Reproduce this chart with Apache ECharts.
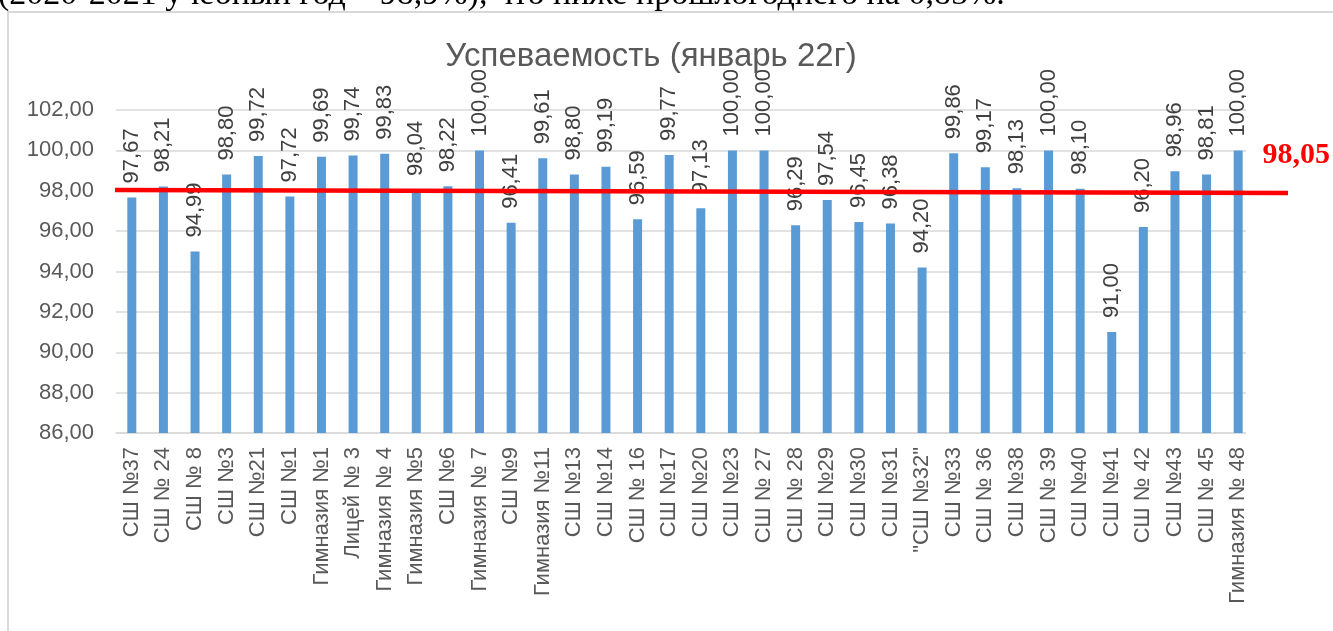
<!DOCTYPE html>
<html>
<head>
<meta charset="utf-8">
<script src="https://cdn.jsdelivr.net/npm/echarts@6/dist/echarts.min.js"></script>
<style>
  html, body { margin: 0; padding: 0; background: #fff; }
  #chart { width: 1333px; height: 631px; }
</style>
</head>
<body>
<div id="chart"></div>
<script>
const schools = [
  'СШ №37', 'СШ № 24', 'СШ № 8', 'СШ №3', 'СШ №21', 'СШ №1',
  'Гимназия №1', 'Лицей № 3', 'Гимназия № 4', 'Гимназия №5', 'СШ №6', 'Гимназия № 7',
  'СШ №9', 'Гимназия №11', 'СШ №13', 'СШ №14', 'СШ № 16', 'СШ №17',
  'СШ №20', 'СШ №23', 'СШ № 27', 'СШ № 28', 'СШ №29', 'СШ №30',
  'СШ №31', '"СШ №32"', 'СШ №33', 'СШ № 36', 'СШ №38', 'СШ № 39',
  'СШ №40', 'СШ №41', 'СШ № 42', 'СШ №43', 'СШ № 45', 'Гимназия № 48'
]
const progress = [
  97.67, 98.21, 94.99, 98.80, 99.72, 97.72,
  99.69, 99.74, 99.83, 98.04, 98.22, 100.00,
  96.41, 99.61, 98.80, 99.19, 96.59, 99.77,
  97.13, 100.00, 100.00, 96.29, 97.54, 96.45,
  96.38, 94.20, 99.86, 99.17, 98.13, 100.00,
  98.10, 91.00, 96.20, 98.96, 98.81, 100.00
]
// hand drawn red line: value at its left and right end
const avgLine = [98.04, 97.89]
const avgValue = 98.05
const yTicks = { min: 86, max: 102, step: 2 }

const fmt = v => v.toFixed(2).replace('.', ',')

const chart = echarts.init(document.getElementById('chart'))

chart.setOption({
  animation: false,
  title: {
    text: 'Успеваемость (январь 22г)',
    left: 646,
    top: 35,
    textAlign: 'center',
    textStyle: { fontFamily: 'Liberation Sans', fontSize: 33, fontWeight: 'normal', color: '#595959' }
  },
  grid: [
    { left: 116, right: 79, top: 110, bottom: 198 },
    { left: 115, right: 45, top: 110, bottom: 198 }
  ],
  xAxis: [
    {
      type: 'category',
      data: schools,
      axisLine: { lineStyle: { color: '#d9d9d9', width: 1.5 } },
      axisTick: { show: false },
      axisLabel: {
        rotate: 90,
        interval: 0,
        margin: 14,
        fontFamily: 'Liberation Sans',
        fontSize: 22,
        color: '#595959'
      }
    },
    { gridIndex: 1, type: 'value', min: 0, max: 1, show: false }
  ],
  yAxis: [
    {
      type: 'value',
      min: yTicks.min,
      max: yTicks.max,
      interval: yTicks.step,
      axisLine: { show: false },
      axisTick: { show: false },
      splitLine: { lineStyle: { color: '#d9d9d9', width: 1.5 } },
      axisLabel: {
        formatter: v => fmt(v),
        margin: 22,
        fontFamily: 'Liberation Sans',
        fontSize: 22,
        color: '#595959'
      }
    },
    { gridIndex: 1, type: 'value', min: yTicks.min, max: yTicks.max, show: false }
  ],
  series: [
    {
      type: 'bar',
      data: progress,
      barWidth: 9,
      itemStyle: { color: '#5b9bd5' },
      label: {
        show: true,
        position: 'top',
        rotate: 90,
        align: 'left',
        verticalAlign: 'middle',
        distance: 14,
        formatter: p => fmt(p.value),
        fontFamily: 'Liberation Sans',
        fontSize: 22,
        color: '#404040'
      }
    },
    {
      type: 'line',
      xAxisIndex: 1,
      yAxisIndex: 1,
      data: [[0, avgLine[0]], [1, avgLine[1]]],
      symbol: 'none',
      z: 100,
      lineStyle: { color: '#ff0000', width: 4.5 }
    }
  ],
  graphic: [
    // text of the document above the chart, cut by the crop
    {
      type: 'text',
      x: -2,
      y: 12,
      style: {
        text: '(2020-2021 учебный год – 98,9%), что ниже прошлогоднего на 0,85%.',
        font: '34px "Liberation Serif"',
        fill: '#000',
        verticalAlign: 'bottom'
      }
    },
    {
      type: 'rect',
      z: 1,
      shape: { x: 8, y: 12, width: 2000, height: 1000 },
      style: { fill: 'none', stroke: '#d9d9d9', lineWidth: 2 }
    },
    // the chart picture is cropped on the right
    {
      type: 'rect',
      z: 50,
      shape: { x: 1246, y: 14, width: 200, height: 700 },
      style: { fill: '#fff' }
    },
    {
      type: 'text',
      z: 100,
      right: 3,
      top: 140,
      style: {
        text: fmt(avgValue),
        font: 'bold 30px "Liberation Serif"',
        fill: '#ff0000'
      }
    }
  ]
})
</script>
</body>
</html>
